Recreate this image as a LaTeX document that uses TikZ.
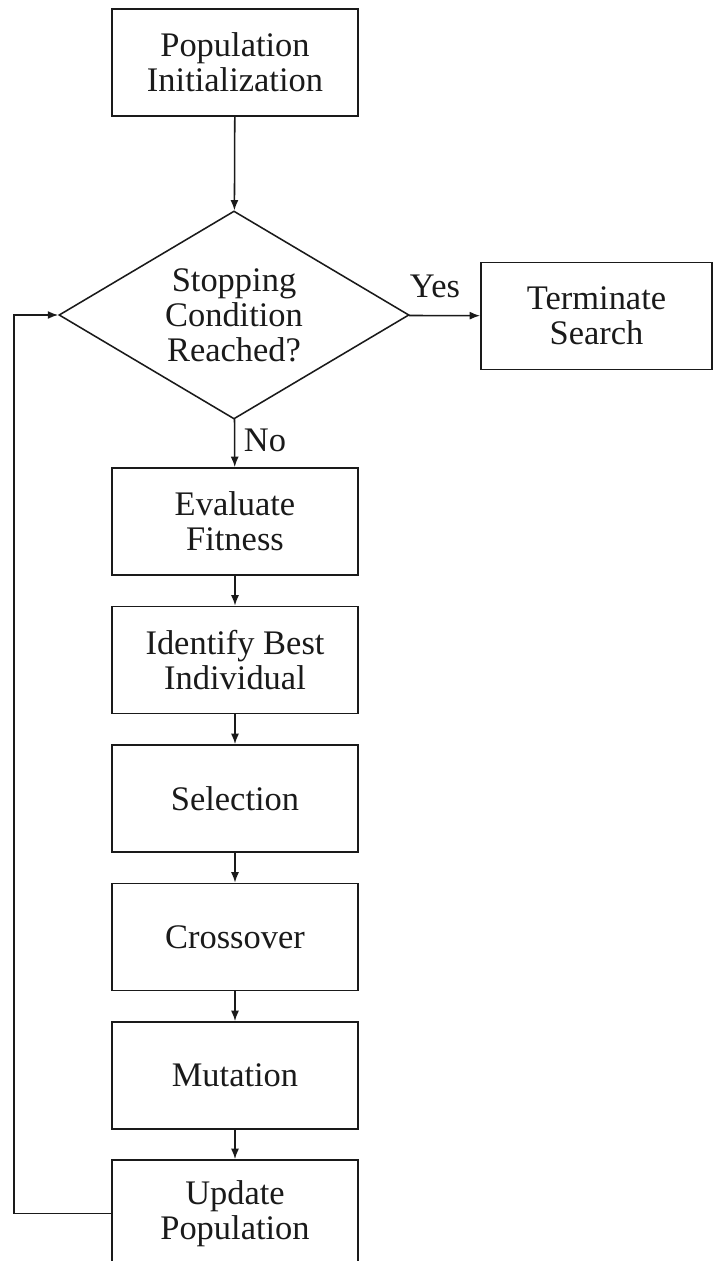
\documentclass[tikz,border=0pt]{standalone}
\usepackage{fontspec}
\setmainfont{Liberation Serif}
\usetikzlibrary{arrows.meta,shapes.geometric}
\definecolor{GAInk}{HTML}{1A1A1A}

\begin{document}
\begin{tikzpicture}[x=0.025cm,y=-0.025cm,line cap=round,line join=miter,
    procbox/.style={draw=GAInk,line width=1.1pt,minimum width=6.15cm,minimum height=2.68cm,inner sep=0pt,align=center,font=\fontsize{24.5}{25}\selectfont,text=GAInk},
    decision/.style={diamond,draw=GAInk,line width=1.1pt,minimum width=8.75cm,minimum height=5.2cm,aspect=1.68,inner sep=0pt,align=center,font=\fontsize{24.5}{25}\selectfont,text=GAInk},
    flowarrow/.style={-{Latex[length=2.6mm,width=2mm]},draw=GAInk,line width=1.1pt},
    tag/.style={font=\fontsize{24.5}{25}\selectfont,text=GAInk}]
  \useasboundingbox (0,0) rectangle (715,1261);
  \clip (0,0) rectangle (715,1261);
  \node[procbox] (init) at (235,62.5) {Population\\Initialization};
  \node[decision] (cond) at (234,315) {Stopping\\Condition\\Reached?};
  \node[procbox,minimum width=5.78cm] (term) at (596.5,316) {Terminate\\Search};
  \node[procbox] (eval) at (235,521.5) {Evaluate\\Fitness};
  \node[procbox] (ident) at (235,660) {Identify Best\\Individual};
  \node[procbox] (sel) at (235,798.5) {Selection};
  \node[procbox] (cross) at (235,937) {Crossover};
  \node[procbox] (mut) at (235,1075.5) {Mutation};
  \node[procbox] (upd) at (235,1213.5) {Update\\Population};
  \node[tag] (yes) at (435,286) {Yes};
  \node[tag] (no) at (265,440) {No};
  \coordinate (loop) at (14,1213.5);
  \draw[flowarrow] (init) -- (cond);
  \draw[flowarrow] (cond) -- (term);
  \draw[flowarrow] (cond) -- (eval);
  \draw[flowarrow] (eval) -- (ident);
  \draw[flowarrow] (ident) -- (sel);
  \draw[flowarrow] (sel) -- (cross);
  \draw[flowarrow] (cross) -- (mut);
  \draw[flowarrow] (mut) -- (upd);
  \draw[flowarrow] (upd.west) -- (loop) |- (cond.west);
\end{tikzpicture}
\end{document}
